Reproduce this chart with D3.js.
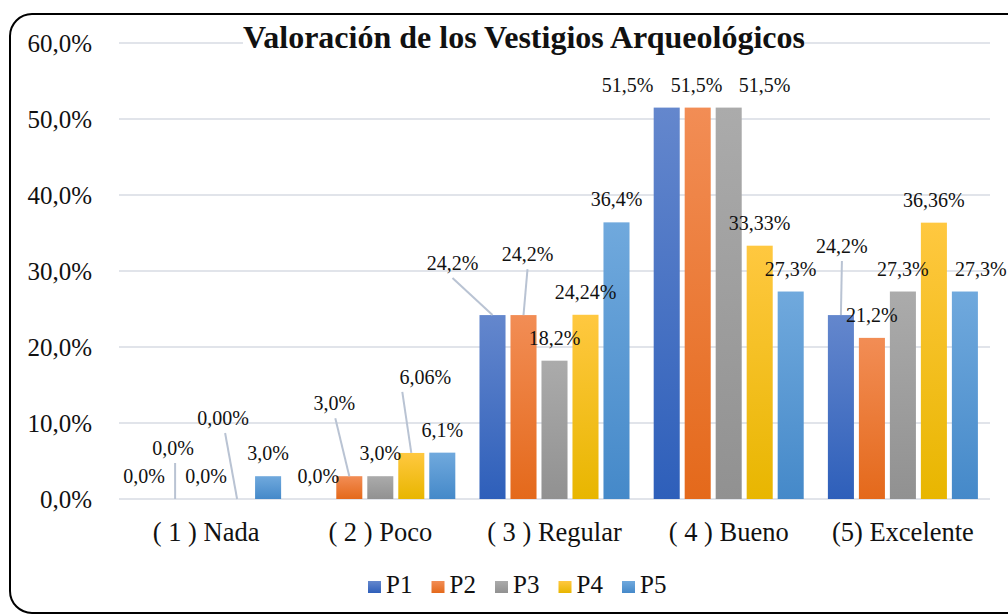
<!DOCTYPE html>
<html>
<head>
<meta charset="utf-8">
<script src="https://cdn.jsdelivr.net/npm/d3@7"></script>
<style>
  body { margin: 0; background: #fff; overflow: hidden; }
  svg { display: block; }
  text { font-family: "Liberation Serif", "Times New Roman", serif; fill: #111; }
</style>
</head>
<body>
<script>
// chart data
var categories = ["( 1 ) Nada", "( 2 ) Poco", "( 3 ) Regular", "( 4 ) Bueno", "(5) Excelente"];
var series = ["P1", "P2", "P3", "P4", "P5"];
// values per series, one per category (percent)
var P1 = [0.0, 0.0, 24.2, 51.5, 24.2];
var P2 = [0.0, 3.0, 24.2, 51.5, 21.2];
var P3 = [0.0, 3.0, 18.2, 51.5, 27.3];
var P4 = [0.0, 6.06, 24.24, 33.33, 36.36];
var P5 = [3.0, 6.1, 36.4, 27.3, 27.3];
// labels as printed in the chart
var P1_labels = ["0,0%", "0,0%", "24,2%", "51,5%", "24,2%"];
var P2_labels = ["0,0%", "3,0%", "24,2%", "51,5%", "21,2%"];
var P3_labels = ["0,0%", "3,0%", "18,2%", "51,5%", "27,3%"];
var P4_labels = ["0,00%", "6,06%", "24,24%", "33,33%", "36,36%"];
var P5_labels = ["3,0%", "6,1%", "36,4%", "27,3%", "27,3%"];
var yTicks = [0, 10, 20, 30, 40, 50, 60];
var yTickLabels = ["0,0%", "10,0%", "20,0%", "30,0%", "40,0%", "50,0%", "60,0%"];

var values = [P1, P2, P3, P4, P5];
var labels = [P1_labels, P2_labels, P3_labels, P4_labels, P5_labels];

// moved data labels (key = category index + "-" + series index)
var labelMoves = {
    "0-1": { dx: -2, dy: -28, leader: true, lx: 2 },
    "0-3": { dx: -14, dy: -58, leader: true, lx: 2 },
    "1-1": { dx: -15, dy: -50, leader: true, lx: 1 },
    "1-3": { dx: 14, dy: -53, leader: true, lx: -23 },
    "2-0": { dx: -40, dy: -29, leader: true, lx: 0 },
    "2-1": { dx: 4, dy: -38, leader: true, lx: 0 },
    "3-0": { dx: -39, dy: 0 },
    "3-1": { dx: -1, dy: 0 },
    "3-2": { dx: 36, dy: 0 },
    "4-0": { dx: 1, dy: -46, leader: true, lx: 0 },
    "4-4": { dx: 16, dy: 0 }
};

var colors = [
    ["#6487cd", "#2e5fba"],
    ["#f28d55", "#e4691b"],
    ["#ababab", "#919191"],
    ["#ffc840", "#e8b600"],
    ["#70a9dd", "#4589c9"]
];

var W = 1008, H = 616;
var margin = { top: 43, right: 18, bottom: 117, left: 119 };

var svg = d3.select("body").append("svg")
    .attr("width", W)
    .attr("height", H);

var defs = svg.append("defs");
colors.forEach(function (c, i) {
    var g = defs.append("linearGradient")
        .attr("id", "grad" + i)
        .attr("x1", 0).attr("y1", 0).attr("x2", 0).attr("y2", 1);
    g.append("stop").attr("offset", "0%").attr("stop-color", c[0]);
    g.append("stop").attr("offset", "100%").attr("stop-color", c[1]);
});

// outer frame: only top, left and bottom sides are inside the window
var r = 22;
svg.append("path")
    .attr("d", "M" + W + ",14 H" + (10 + r) + " A" + r + "," + r + " 0 0 0 10," + (14 + r) +
        " V" + (613 - r) + " A" + r + "," + r + " 0 0 0 " + (10 + r) + ",613 H" + W)
    .attr("fill", "none")
    .attr("stroke", "#000")
    .attr("stroke-width", 2);

var x0 = d3.scaleBand()
    .domain(categories)
    .range([margin.left, W - margin.right])
    .padding(0);

var x1 = d3.scaleBand()
    .domain(series)
    .range([0, x0.bandwidth()])
    .paddingInner(0.16)
    .paddingOuter(0.39);

var y = d3.scaleLinear()
    .domain([0, 60])
    .range([H - margin.bottom, margin.top]);

// grid lines
svg.append("g")
    .selectAll("line")
    .data(yTicks)
    .enter().append("line")
    .attr("x1", margin.left)
    .attr("x2", W - margin.right)
    .attr("y1", function (d) { return y(d); })
    .attr("y2", function (d) { return y(d); })
    .attr("stroke", "#e1e4ea")
    .attr("stroke-width", 2);

// y tick labels
svg.append("g")
    .selectAll("text")
    .data(yTicks)
    .enter().append("text")
    .attr("x", 92)
    .attr("y", function (d) { return y(d); })
    .attr("dy", "0.35em")
    .attr("text-anchor", "end")
    .attr("font-size", 25)
    .text(function (d, i) { return yTickLabels[i]; });

// bars
var groups = svg.append("g")
    .selectAll("g")
    .data(categories)
    .enter().append("g")
    .attr("transform", function (d) { return "translate(" + x0(d) + ",0)"; });

groups.selectAll("rect")
    .data(function (d, ci) { return series.map(function (s, si) { return { c: ci, s: si, v: values[si][ci] }; }); })
    .enter().append("rect")
    .attr("x", function (d) { return x1(series[d.s]); })
    .attr("width", x1.bandwidth())
    .attr("y", function (d) { return y(d.v); })
    .attr("height", function (d) { return y(0) - y(d.v); })
    .attr("fill", function (d) { return "url(#grad" + d.s + ")"; });

// data labels + leader lines
var labelData = [];
categories.forEach(function (c, ci) {
    series.forEach(function (s, si) {
        var v = values[si][ci];
        var bx = x0(c) + x1(s) + x1.bandwidth() / 2;
        var by = y(v);
        var m = labelMoves[ci + "-" + si] || { dx: 0, dy: 0 };
        labelData.push({
            text: labels[si][ci],
            bx: bx, by: by,
            x: bx + m.dx, y: by - 16 + m.dy,
            leader: m.leader, lx: m.lx || 0
        });
    });
});

svg.append("g")
    .selectAll("line")
    .data(labelData.filter(function (d) { return d.leader; }))
    .enter().append("line")
    .attr("x1", function (d) { return d.x + d.lx; })
    .attr("y1", function (d) { return d.y + 8; })
    .attr("x2", function (d) { return d.bx; })
    .attr("y2", function (d) { return d.by; })
    .attr("stroke", "#b9c3d3")
    .attr("stroke-width", 2);

svg.append("g")
    .selectAll("text")
    .data(labelData)
    .enter().append("text")
    .attr("x", function (d) { return d.x; })
    .attr("y", function (d) { return d.y; })
    .attr("text-anchor", "middle")
    .attr("font-size", 20)
    .text(function (d) { return d.text; });

// category labels
svg.append("g")
    .selectAll("text")
    .data(categories)
    .enter().append("text")
    .attr("x", function (d) { return x0(d) + x0.bandwidth() / 2; })
    .attr("y", 541)
    .attr("text-anchor", "middle")
    .attr("font-size", 26.5)
    .text(function (d) { return d; });

// title (white box behind it hides the top grid line)
svg.append("rect")
    .attr("x", 243).attr("y", 22)
    .attr("width", 562).attr("height", 36)
    .attr("fill", "#fff");

svg.append("text")
    .attr("x", 524)
    .attr("y", 48)
    .attr("text-anchor", "middle")
    .attr("font-size", 32)
    .attr("font-weight", "bold")
    .text("Valoración de los Vestigios Arqueológicos");

// legend
var legend = svg.append("g")
    .selectAll("g")
    .data(series)
    .enter().append("g")
    .attr("transform", function (d, i) { return "translate(" + (368 + i * 63.5) + ",0)"; });

legend.append("rect")
    .attr("x", 0).attr("y", 581)
    .attr("width", 13).attr("height", 12)
    .attr("fill", function (d, i) { return "url(#grad" + i + ")"; });

legend.append("text")
    .attr("x", 18)
    .attr("y", 593)
    .attr("font-size", 25)
    .text(function (d) { return d; });
</script>
</body>
</html>
